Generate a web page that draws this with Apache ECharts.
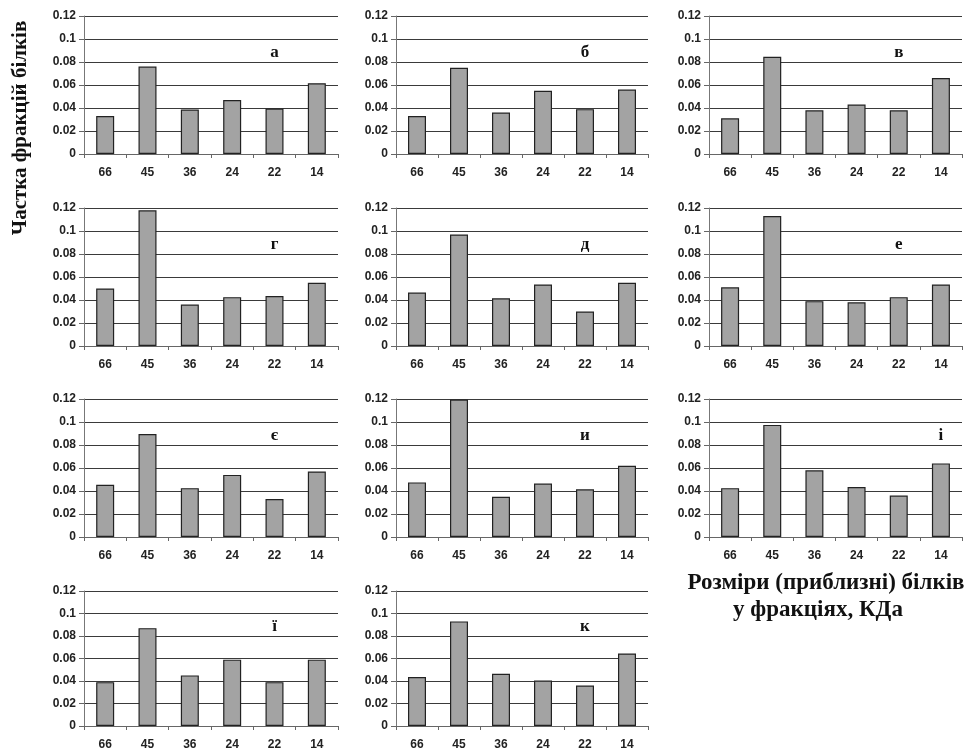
<!DOCTYPE html>
<html><head><meta charset="utf-8">
<script src="https://cdn.jsdelivr.net/npm/echarts@6/dist/echarts.min.js"></script>
<style>html,body{margin:0;padding:0;background:#fff}#c{width:968px;height:751px}</style>
</head><body><div id="c"></div>
<script>
const categories = ['66','45','36','24','22','14'];
const yTicks = [0, 0.02, 0.04, 0.06, 0.08, 0.1, 0.12];
const panelLetters = ['а','б','в','г','д','е','є','и','і','ї','к'];
const letterCategory = ['22','22','22','22','22','22','22','22','14','22','22'];
const letterValue = 0.088;
const vA = [0.033, 0.076, 0.0387, 0.047, 0.0395, 0.0615];
const vB = [0.033, 0.075, 0.036, 0.055, 0.039, 0.056];
const vV = [0.031, 0.0845, 0.038, 0.043, 0.038, 0.066];
const vG = [0.050, 0.118, 0.036, 0.0425, 0.0435, 0.055];
const vD = [0.0465, 0.097, 0.0415, 0.0535, 0.030, 0.055];
const vE = [0.051, 0.113, 0.039, 0.038, 0.0425, 0.0535];
const vYe = [0.0455, 0.0895, 0.0425, 0.054, 0.033, 0.057];
const vY = [0.0475, 0.1195, 0.035, 0.0465, 0.0415, 0.062];
const vI = [0.0425, 0.0975, 0.058, 0.0435, 0.036, 0.064];
const vYi = [0.039, 0.087, 0.045, 0.059, 0.039, 0.059];
const vK = [0.0435, 0.093, 0.0465, 0.0405, 0.036, 0.0645];
const panelValues = [vA, vB, vV, vG, vD, vE, vYe, vY, vI, vYi, vK];
const yTitle = 'Частка фракцій білків';
const xTitle1 = 'Розміри (приблизні) білків';
const xTitle2 = 'у фракціях, КДа';

const colLeft = [84, 396, 709];
const colWidth = [254, 252, 253];
const rowTop = [16, 208, 399, 591];
const plotH = 138;

const grids = [], xAxes = [], yAxes = [], series = [];
panelValues.forEach((vals, i) => {
  const r = Math.floor(i / 3), c = i % 3;
  grids.push({left: colLeft[c], top: rowTop[r], width: colWidth[c], height: plotH, containLabel: false});
  xAxes.push({
    type: 'category', gridIndex: i, data: categories,
    axisLine: {show: true, lineStyle: {color: '#666', width: 1}},
    axisTick: {show: true, length: 4, alignWithLabel: false, lineStyle: {color: '#666'}},
    axisLabel: {margin: 13, fontFamily: 'Liberation Sans, Arial', fontWeight: 'bold', fontSize: 12, color: '#222'},
    splitLine: {show: false}
  });
  yAxes.push({
    type: 'value', gridIndex: i, min: 0, max: 0.12, interval: 0.02,
    axisLine: {show: true, lineStyle: {color: '#777', width: 1}},
    axisTick: {show: true, length: 5, lineStyle: {color: '#666'}},
    axisLabel: {margin: 8, fontFamily: 'Liberation Sans, Arial', fontWeight: 'bold', fontSize: 12, color: '#222',
      formatter: v => String(+v.toFixed(2))},
    splitLine: {show: true, lineStyle: {color: '#3a3a3a', width: 1}}
  });
  series.push({
    type: 'bar', xAxisIndex: i, yAxisIndex: i, data: vals, barWidth: 18,
    itemStyle: {color: '#a3a3a3', borderColor: '#222', borderWidth: 1.2},
    silent: true, animation: false,
    markPoint: {
      symbol: 'circle', symbolSize: 0, silent: true,
      label: {show: true, position: 'inside', formatter: panelLetters[i], fontFamily: 'Liberation Serif, Times New Roman', fontWeight: 'bold', fontSize: 17, color: '#111'},
      data: [{coord: [letterCategory[i], letterValue]}]
    }
  });
});

const chart = echarts.init(document.getElementById('c'), null, {renderer: 'canvas'});
chart.setOption({
  animation: false,
  grid: grids, xAxis: xAxes, yAxis: yAxes, series: series,
  graphic: [
    {type: 'text', x: 21, y: 128, rotation: Math.PI / 2,
      style: {text: yTitle, fontFamily: 'Liberation Serif, Times New Roman', fontWeight: 'bold', fontSize: 21, fill: '#111', align: 'center', verticalAlign: 'middle'}},
    {type: 'text', x: 826, y: 583,
      style: {text: xTitle1, fontFamily: 'Liberation Serif, Times New Roman', fontWeight: 'bold', fontSize: 23, fill: '#111', align: 'center', verticalAlign: 'middle'}},
    {type: 'text', x: 818, y: 610,
      style: {text: xTitle2, fontFamily: 'Liberation Serif, Times New Roman', fontWeight: 'bold', fontSize: 23, fill: '#111', align: 'center', verticalAlign: 'middle'}}
  ]
});
</script></body></html>
